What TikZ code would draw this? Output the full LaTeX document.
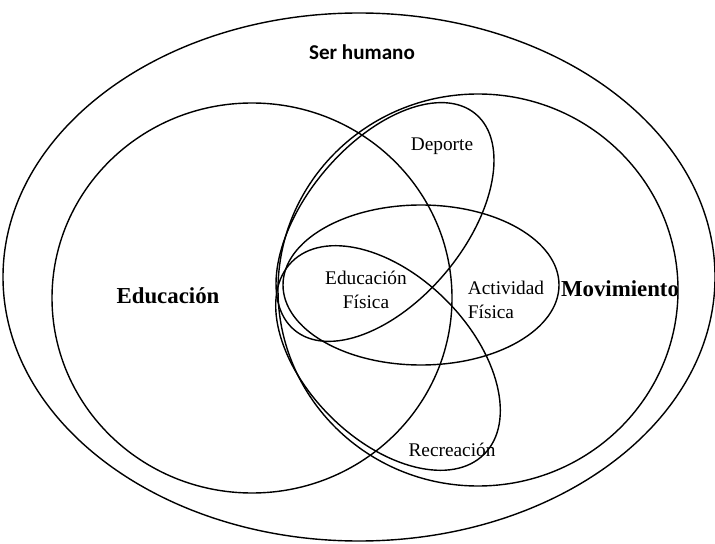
\documentclass[tikz,border=0pt]{standalone}
\usepackage{fontspec}
\setmainfont{Liberation Serif}
\newfontfamily\calibri{Carlito}
\begin{document}
\begin{tikzpicture}[x=0.02cm, y=-0.02cm, line width=0.8pt,
    bigname/.style={font=\bfseries\fontsize{13}{15}\selectfont},
    smallname/.style={font=\fontsize{11}{13.7}\selectfont}]
  \useasboundingbox (0,0) rectangle (715,543);

  % ser humano, educacion, movimiento
  \draw (359,277) ellipse [x radius=356, y radius=264];
  \draw (252,298) ellipse [x radius=200, y radius=195];
  \draw (478,290) ellipse [x radius=200, y radius=196];

  % actividad fisica
  \draw (421,285) ellipse [x radius=138, y radius=80];

  % deporte and recreacion, tilted
  \draw [shift={(385,222)}, rotate=50] (0,0) ellipse [x radius=141, y radius=79];
  \draw [shift={(388,358)}, rotate=-45] (0,0) ellipse [x radius=136, y radius=82];

  \node[font=\calibri\bfseries\fontsize{12}{14}\selectfont] (serhumano) at (362,52) {Ser humano};
  \node[bigname] (educacion) at (168,296) {Educación};
  \node[bigname] (movimiento) at (620,289) {Movimiento};

  \node[smallname] (deporte) at (442,146) {Deporte};
  \node[smallname, align=center] (edfisica) at (366,290) {Educación\\Física};
  \node[smallname, align=left] (actfisica) at (506,300) {Actividad\\Física};
  \node[smallname] (recreacion) at (452,450) {Recreación};
\end{tikzpicture}
\end{document}
